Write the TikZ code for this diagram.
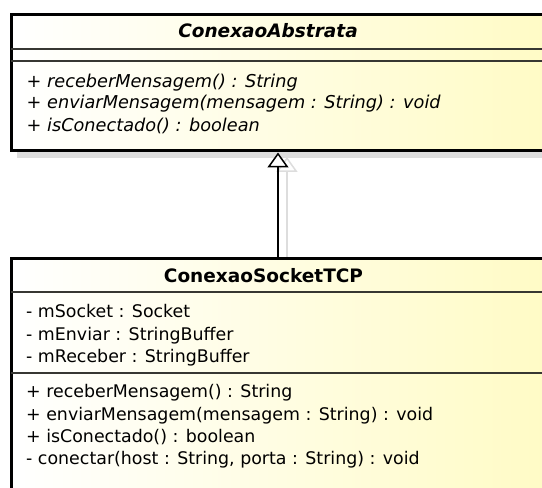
\documentclass[tikz,border=0pt]{standalone}
\usepackage{fontspec}
\setmainfont{DejaVu Sans}
\usetikzlibrary{arrows.meta}

\definecolor{umlyellow}{RGB}{255,251,196}
\definecolor{umlshadow}{RGB}{221,221,221}
\definecolor{umlsep}{RGB}{55,55,50}

\begin{document}
\begin{tikzpicture}[x=1pt,y=1pt,
  classbox/.style={draw=black,line width=3pt,left color=white,right color=umlyellow,
    rectangle,inner sep=0pt,anchor=north west},
  boxshadow/.style={fill=umlshadow,draw=none},
  separator/.style={draw=umlsep,line width=1.3pt},
  classname/.style={font=\fontsize{18.5}{22}\selectfont\bfseries,inner sep=0pt,anchor=base},
  member/.style={font=\fontsize{17.4}{22}\selectfont,anchor=base west,inner sep=0pt},
  abstractmember/.style={member,font=\fontsize{17.7}{22}\selectfont\itshape},
  generalization/.style={line width=1.5pt,draw=black,
    -{Triangle[length=15pt,width=21pt,fill=white,line width=1.5pt]}},
  shadowline/.style={line width=1.5pt,draw=umlshadow,
    -{Triangle[length=15pt,width=21pt,fill=none,line width=1.5pt,color=umlshadow]}},
]
\useasboundingbox (0,0) rectangle (542,488);
\clip (0,0) rectangle (542,488);

% shadows
\fill[boxshadow] (17,337) rectangle (570,330);
\coordinate (gx) at (278,0);
\coordinate (gxs) at (287,0);
\coordinate (shTop) at (0,331);
\draw[shadowline] (gxs |- 0,226) -- (gxs |- shTop);

% abstract class
\node[classbox,minimum width=550.5pt,minimum height=136pt] (abs) at (9.5,474.5) {};
\coordinate (absS1) at (0,439);
\coordinate (absS2) at (0,427);
\draw[separator] ([xshift=1.5pt]abs.west |- absS1) -- (abs.east |- absS1);
\draw[separator] ([xshift=1.5pt]abs.west |- absS2) -- (abs.east |- absS2);
\node[classname] (absName) at (268,450.5) {\itshape ConexaoAbstrata};
\node[abstractmember] (absM1) at (26.5,400) {+ receberMensagem() : String};
\node[abstractmember] (absM2) at (26.5,379) {+ enviarMensagem(mensagem : String) : void};
\node[abstractmember] (absM3) at (26.5,356.5) {+ isConectado() : boolean};

% concrete class
\node[classbox,minimum width=550.5pt,minimum height=260pt] (sub) at (9.5,230.5) {};
\coordinate (subS1) at (0,196);
\coordinate (subS2) at (0,115);
\draw[separator] ([xshift=1.5pt]sub.west |- subS1) -- (sub.east |- subS1);
\draw[separator] ([xshift=1.5pt]sub.west |- subS2) -- (sub.east |- subS2);
\node[classname] (subName) at (263.5,205.5) {ConexaoSocketTCP};
\node[member] (subA1) at (26,170) {- mSocket : Socket};
\node[member] (subA2) at (26,147.5) {- mEnviar : StringBuffer};
\node[member] (subA3) at (26,125) {- mReceber : StringBuffer};
\node[member] (subM1) at (26,90) {+ receberMensagem() : String};
\node[member] (subM2) at (26,67.5) {+ enviarMensagem(mensagem : String) : void};
\node[member] (subM3) at (26,45) {+ isConectado() : boolean};
\node[member] (subM4) at (26,23) {- conectar(host : String, porta : String) : void};

% generalization
\draw[generalization] (sub.north -| gx) -- (abs.south -| gx);
\end{tikzpicture}
\end{document}
